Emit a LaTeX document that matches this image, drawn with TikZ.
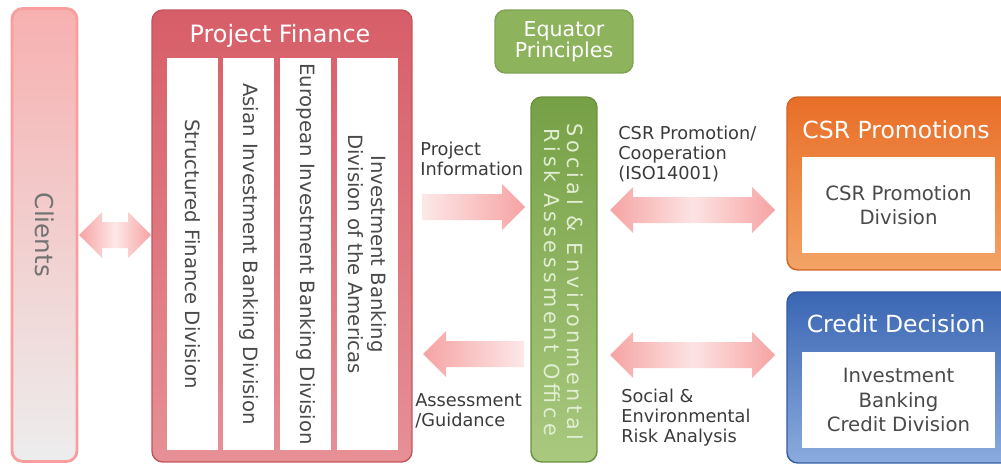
\documentclass[tikz,border=0pt]{standalone}
\usepackage{fontspec}
\setmainfont{DejaVu Sans}
\newfontfamily\spacedfont[LetterSpace=19]{DejaVu Sans}
\usetikzlibrary{calc}

\definecolor{clpink}{HTML}{F7B0B0}
\definecolor{clgray}{HTML}{EDEDED}
\definecolor{pftop}{HTML}{D75E68}
\definecolor{pfbot}{HTML}{E69096}
\definecolor{eqgreen}{HTML}{8DB35D}
\definecolor{setop}{HTML}{76A046}
\definecolor{sebot}{HTML}{A9C97F}
\definecolor{setext}{HTML}{E2EED2}
\definecolor{csrtop}{HTML}{E86E27}
\definecolor{csrbot}{HTML}{F3A467}
\definecolor{crtop}{HTML}{3A66B3}
\definecolor{crbot}{HTML}{8AABDD}
\definecolor{arrpink}{HTML}{F6A3A3}
\definecolor{txtgray}{HTML}{4A4A4A}

\begin{document}
\begin{tikzpicture}[x=0.02cm, y=-0.02cm]
	\tikzstyle{box}=[rounded corners=6pt, inner sep=0pt, line width=0.8pt]
	\tikzstyle{col}=[fill=white, rotate=-90, inner sep=0pt, minimum width=7.84cm, align=center, text=txtgray, font=\fontsize{11.2}{13}\selectfont]
	\tikzstyle{inner}=[fill=white, inner sep=0pt, minimum width=3.86cm, minimum height=1.92cm, align=center, text=txtgray, font=\fontsize{11.2}{14}\selectfont]
	\tikzstyle{title}=[text=white, font=\fontsize{13.4}{16}\selectfont]
	\tikzstyle{lbl}=[anchor=north west, inner sep=0pt, align=left, text=txtgray!80!black, font=\fontsize{10.1}{11.4}\selectfont]
	\tikzstyle{rarr}=[to path={-- ++(0,-13) -- ($(\tikztotarget)+(-23,-13)$) -- ++(0,-10) -- (\tikztotarget) -- ++(-23,23) -- ++(0,-10) -- ($(\tikztostart)+(0,13)$) -- cycle}]
	\tikzstyle{larr}=[to path={-- ++(0,-13) -- ($(\tikztotarget)+(23,-13)$) -- ++(0,-10) -- (\tikztotarget) -- ++(23,23) -- ++(0,-10) -- ($(\tikztostart)+(0,13)$) -- cycle}]
	\tikzstyle{darr}=[to path={-- ++(23,-23) -- ++(0,10) -- ($(\tikztotarget)+(-23,-13)$) -- ++(0,-10) -- (\tikztotarget) -- ++(-23,23) -- ++(0,-10) -- ($(\tikztostart)+(23,13)$) -- ++(0,10) -- cycle}]

	\useasboundingbox (0,0) rectangle (1001,466);
	\clip (0,0) rectangle (1001,466);

	% clients
	\node[box, draw=clpink!90!red, line width=1.6pt, top color=clpink, bottom color=clgray, minimum width=1.3cm, minimum height=9.06cm] (clients) at (44.5,235) {};
	\node[rotate=-90, text=black!55, font=\fontsize{14}{16}\selectfont] (clientstxt) at (clients) {Clients};

	% project finance
	\node[box, draw=pftop!90!black, top color=pftop, bottom color=pfbot, minimum width=5.2cm, minimum height=9.04cm] (pf) at (282,236) {};
	\node[title, font=\fontsize{13.6}{16}\selectfont] (pftitle) at (280,36) {Project Finance};
	\node[col, minimum height=1.02cm] (sfd) at (192.5,254) {Structured Finance Division};
	\node[col, minimum height=1.02cm] (aibd) at (248.5,254) {Asian Investment Banking Division};
	\node[col, minimum height=1.02cm] (eibd) at (305.5,254) {European Investment Banking Division};
	\node[col, minimum height=1.24cm] (ibda) at (367.5,254) {Investment Banking\\Division of the Americas};

	% equator principles and assessment office
	\node[box, fill=eqgreen, draw=eqgreen!90!black, minimum width=2.76cm, minimum height=1.26cm, text=white, align=center, font=\fontsize{11.7}{12.3}\selectfont] (eq) at (564,41.5) {Equator\\Principles};
	\node[box, draw=setop!90!black, top color=setop, bottom color=sebot, minimum width=1.32cm, minimum height=7.3cm] (sera) at (564,279.5) {};
	\node[rotate=-90, align=center, text=setext, font=\spacedfont\fontsize{11.8}{13}\selectfont] (seratxt) at (564,282) {Social \& Environmental\\Risk Assessment Office};

	% csr promotions
	\node[box, draw=csrtop!90!black, top color=csrtop, bottom color=csrbot, minimum width=4.5cm, minimum height=3.46cm] (csr) at (899.5,183.5) {};
	\node[title] (csrtitle) at (896,130) {CSR Promotions};
	\node[inner] (csrdiv) at (898.5,205) {CSR Promotion\\Division};

	% credit decision
	\node[box, draw=crtop!90!black, top color=crtop, bottom color=crbot, minimum width=4.5cm, minimum height=3.42cm] (cr) at (899.5,377.5) {};
	\node[title] (crtitle) at (896,324) {Credit Decision};
	\node[inner] (crdiv) at (898.5,400) {Investment\\Banking\\Credit Division};

	% arrows
	\coordinate (cl1) at (79,235);
	\coordinate (pf1) at (151,235);
	\coordinate (pi1) at (422,207);
	\coordinate (pi2) at (525,207);
	\coordinate (ag1) at (524,354);
	\coordinate (ag2) at (423,354);
	\coordinate (cp1) at (610,210);
	\coordinate (cp2) at (775,210);
	\coordinate (ra1) at (610,355);
	\coordinate (ra2) at (775,355);

	\shade[left color=arrpink, right color=arrpink, middle color=arrpink!25] (cl1) to[darr] (pf1);
	\shade[left color=arrpink!25, right color=arrpink] (pi1) to[rarr] (pi2);
	\shade[left color=arrpink, right color=arrpink!25] (ag1) to[larr] (ag2);
	\shade[left color=arrpink, right color=arrpink, middle color=arrpink!30] (cp1) to[darr] (cp2);
	\shade[left color=arrpink, right color=arrpink, middle color=arrpink!30] (ra1) to[darr] (ra2);

	\node[lbl] (pilbl) at (420,142) {Project\\Information};
	\node[lbl] (aglbl) at (415,393) {Assessment\\/Guidance};
	\node[lbl] (cplbl) at (618,126) {CSR Promotion/\\Cooperation\\(ISO14001)};
	\node[lbl] (ralbl) at (621,389) {Social \&\\Environmental\\Risk Analysis};
\end{tikzpicture}
\end{document}
